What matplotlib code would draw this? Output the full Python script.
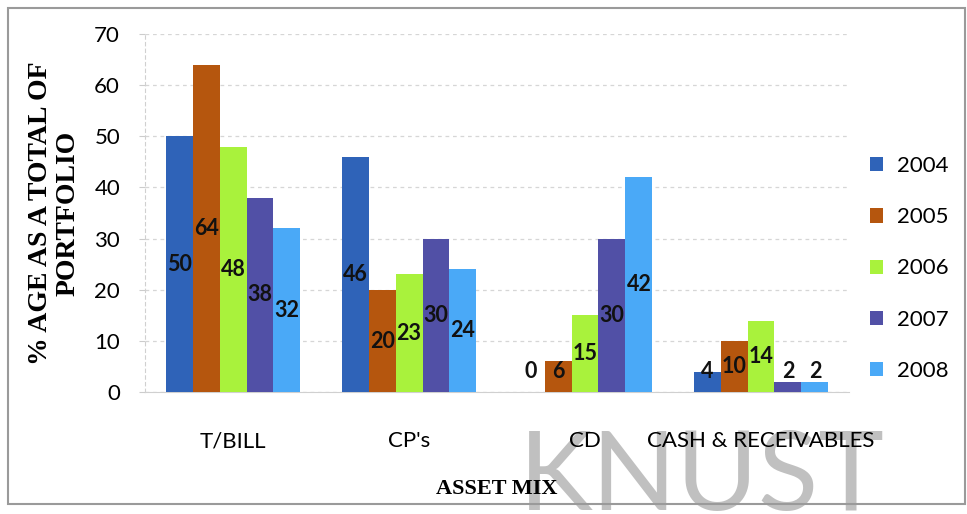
import matplotlib
matplotlib.use("Agg")
import matplotlib.pyplot as plt
import numpy as np
from matplotlib.patches import Rectangle

categories = ["T/BILL", "CP's", "CD", "CASH & RECEIVABLES"]
years = ["2004", "2005", "2006", "2007", "2008"]
values = {
    "2004": [50, 46, 0, 4],
    "2005": [64, 20, 6, 10],
    "2006": [48, 23, 15, 14],
    "2007": [38, 30, 30, 2],
    "2008": [32, 24, 42, 2],
}
colors = {
    "2004": "#2f63b8",
    "2005": "#b5560e",
    "2006": "#a9f23c",
    "2007": "#5150a6",
    "2008": "#4aa9f7",
}
yticks = [0, 10, 20, 30, 40, 50, 60, 70]

sans = ["Lato", "DejaVu Sans"]
serif = ["Liberation Serif", "DejaVu Serif"]

fig = plt.figure(figsize=(9.67, 5.14), dpi=100)
ax = fig.add_axes([0.150, 0.237, 0.728, 0.697])

x = np.arange(len(categories))
width = 0.153
offsets = (np.arange(len(years)) - 2) * width

for yr, off in zip(years, offsets):
    vals = values[yr]
    ax.bar(x + off, vals, width=width, color=colors[yr], label=yr, zorder=3)
    for xi, v in zip(x, vals):
        ax.text(xi + off, max(v / 2, 4), str(v), ha="center", va="center",
                fontsize=15.5, fontweight="bold", family=sans, color="#111111",
                zorder=5)

ax.set_xlim(-0.5, 3.5)
ax.set_ylim(0, 70)
ax.set_yticks(yticks)
ax.set_yticklabels([str(t) for t in yticks], fontsize=16, family=sans)
ax.set_xticks(x)
ax.set_xticklabels(categories, fontsize=16, family=sans)
ax.tick_params(axis="x", length=0, pad=28)
ax.tick_params(axis="y", length=4, color="#cccccc", pad=14)

ax.grid(axis="y", color="#d6d6d6", linestyle=(0, (3, 3)), linewidth=0.9, zorder=0)
for s in ["top", "right"]:
    ax.spines[s].set_visible(False)
ax.spines["left"].set_color("#d0d0d0")
ax.spines["left"].set_linestyle((0, (3, 3)))
ax.spines["bottom"].set_color("#d0d0d0")

ax.set_ylabel("% AGE AS A TOTAL OF\nPORTFOLIO", fontsize=20, fontweight="bold",
              family=serif, linespacing=1.1, labelpad=10)
ax.set_xlabel("ASSET MIX", fontsize=16, fontweight="bold", family=serif,
              labelpad=20)

leg = fig.legend(loc="upper left", bbox_to_anchor=(0.879, 0.735), frameon=False,
                 prop={"family": sans, "size": 16}, handlelength=0.6,
                 handleheight=0.6, labelspacing=1.4, handletextpad=0.6)

# watermark
fig.text(0.537, -0.03, "KNUST", fontsize=80, family=sans, color="#c0c0c0",
         ha="left", va="bottom", zorder=-1)

# outer chart frame
fig.patches.append(Rectangle((0.008, 0.02), 0.99, 0.965, transform=fig.transFigure,
                             fill=False, edgecolor="#9a9a9a", linewidth=1.5))

fig.savefig("out.png", dpi=100)
